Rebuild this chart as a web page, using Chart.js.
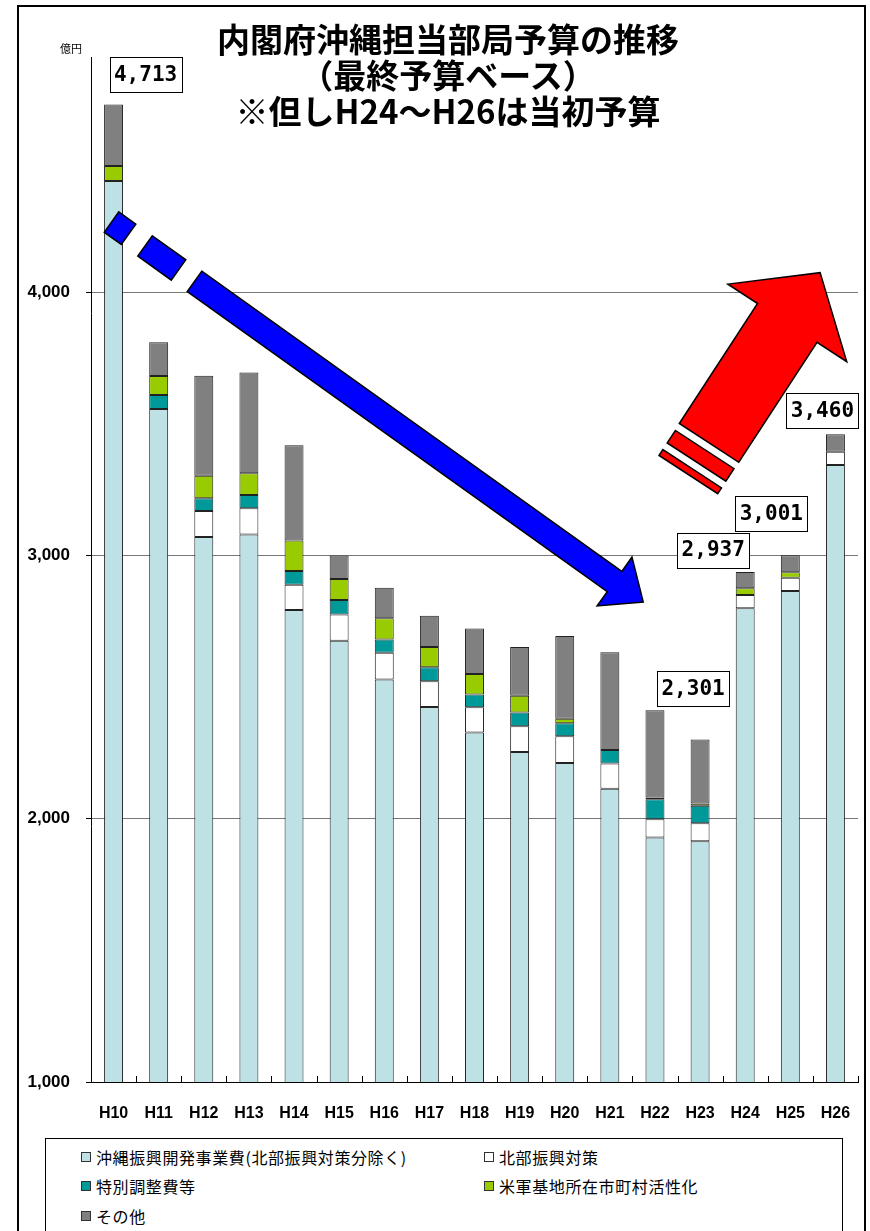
<!DOCTYPE html>
<html lang="ja">
<head>
<meta charset="utf-8">
<script src="https://cdn.jsdelivr.net/npm/chart.js@4.4.1/dist/chart.umd.min.js"></script>
<style>
  html, body { margin: 0; padding: 0; background: #fff; }
  #wrap { position: relative; width: 870px; height: 1231px; overflow: hidden; font-family: "Noto Sans CJK JP", sans-serif; }
  #frame { position: absolute; left: 17px; top: 5px; width: 845px; height: 1300px; border: 2px solid #000; }
  #chart { position: absolute; left: 0; top: 0; }
  #title { position: absolute; left: 0; top: 20px; width: 896px; text-align: center; font-size: 33px; font-weight: bold; line-height: 36px; color: #000; }
  #unit { position: absolute; left: 60px; top: 40px; font-size: 11px; color: #000; }
  #legend { position: absolute; left: 45px; top: 1138px; width: 798px; height: 120px; border: 1px solid #000;
            display: grid; grid-template-columns: 403px 360px; grid-auto-rows: 29.5px; padding: 3px 0 0 35px; box-sizing: border-box; }
  .li { display: flex; align-items: center; font-size: 16px; letter-spacing: 0.6px; color: #000; white-space: nowrap; }
  .sw { width: 8px; height: 8px; border: 1px solid #333; margin-right: 5px; flex: none; }
</style>
</head>
<body>
<div id="wrap">
  <div id="frame"></div>
  <canvas id="chart" width="870" height="1135" style="width:870px;height:1135px"></canvas>
  <div id="title">内閣府沖縄担当部局予算の推移<br>（最終予算ベース）<br>※但しH24～H26は当初予算</div>
  <div id="unit">億円</div>
  <div id="legend"></div>
</div>
<script>
// ---- Données (億円) ----
const categories = ['H10', 'H11', 'H12', 'H13', 'H14', 'H15', 'H16', 'H17', 'H18', 'H19', 'H20', 'H21', 'H22', 'H23', 'H24', 'H25', 'H26'];
const okinawaMain = [4422, 3556, 3070, 3079, 2793, 2676, 2529, 2424, 2327, 2253, 2212, 2114, 1929, 1914, 2799, 2865, 3343];
const hokubu      = [null, null, 99, 100, 96, 100, 101, 98, 96, 98, 101, 96, 69, 69, 51, 50, 51];
const tokubetsu   = [null, 53, 48, 50, 52, 55, 51, 53, 49, 52, 50, 51, 76, 66, null, null, null];
const beigun      = [57, 72, 86, 83, 116, 79, 80, 77, 78, 64, 17, null, 7, 9, 25, 21, null];
const sonota      = [234, 129, 379, 383, 361, 90, 116, 119, 172, 185, 314, 371, 331, 243, 62, 65, 66];
const yTicks = [1000, 2000, 3000, 4000];
const labelledBars = [0, 13, 14, 15, 16];

const series = [
  { label: '沖縄振興開発事業費(北部振興対策分除く)', data: okinawaMain, color: '#BDE1E4' },
  { label: '北部振興対策', data: hokubu, color: '#FFFFFF' },
  { label: '特別調整費等', data: tokubetsu, color: '#009999' },
  { label: '米軍基地所在市町村活性化', data: beigun, color: '#99CC00' },
  { label: 'その他', data: sonota, color: '#808080' }
];

const totals = categories.map((_, i) => series.reduce((s, d) => s + (d.data[i] || 0), 0));

// ---- Décor ----
const boxOffsets = { 0: [32, -30], 13: [-7, -51], 14: [-32, -22], 15: [-19, -42], 16: [-13, -24] };

const arrows = [
  { from: { x: -0.045, y: 4266 }, to: { x: 11.74, y: 2823 }, fill: '#0000FF',
    dashes: [[0, 0.032], [0.063, 0.126]], dashW: 25, shaftStart: 0.156, headBase: 0.946, shaftW: 25, headW: 60 },
  { from: { x: 12.74, y: 3307 }, to: { x: 15.66, y: 4074 }, fill: '#FF0000',
    dashes: [[0, 0.029], [0.062, 0.124]], dashW: 70, shaftStart: 0.157, headBase: 0.751, shaftW: 71, headW: 142 }
];

const fmt = (v) => v.toLocaleString('en-US');

const decorPlugin = {
  id: 'decor',
  afterDraw(chart) {
    const { ctx, scales: { x, y }, chartArea } = chart;

    // petits traits intérieurs entre catégories
    ctx.save();
    ctx.strokeStyle = '#000';
    ctx.lineWidth = 1;
    for (let i = 0; i <= categories.length; i++) {
      const px = Math.round(chartArea.left + (chartArea.right - chartArea.left) * i / categories.length) + 0.5;
      ctx.beginPath();
      ctx.moveTo(px, chartArea.bottom);
      ctx.lineTo(px, chartArea.bottom - 6);
      ctx.stroke();
    }
    ctx.restore();

    // flèches
    arrows.forEach(a => {
      const x0 = x.getPixelForValue(a.from.x), y0 = y.getPixelForValue(a.from.y);
      const x1 = x.getPixelForValue(a.to.x), y1 = y.getPixelForValue(a.to.y);
      const len = Math.hypot(x1 - x0, y1 - y0);
      const ux = (x1 - x0) / len, uy = (y1 - y0) / len;
      const nx = -uy, ny = ux;
      const pt = (t, w) => [x0 + ux * t * len + nx * w, y0 + uy * t * len + ny * w];
      const poly = (pts) => {
        ctx.beginPath();
        pts.forEach((p, k) => k ? ctx.lineTo(p[0], p[1]) : ctx.moveTo(p[0], p[1]));
        ctx.closePath();
        ctx.fill();
        ctx.stroke();
      };
      ctx.save();
      ctx.fillStyle = a.fill;
      ctx.strokeStyle = '#000';
      ctx.lineWidth = 1.5;
      ctx.lineJoin = 'miter';
      a.dashes.forEach(([t0, t1]) => {
        poly([pt(t0, -a.dashW / 2), pt(t1, -a.dashW / 2), pt(t1, a.dashW / 2), pt(t0, a.dashW / 2)]);
      });
      poly([
        pt(a.shaftStart, -a.shaftW / 2), pt(a.headBase, -a.shaftW / 2), pt(a.headBase, -a.headW / 2),
        pt(1, 0),
        pt(a.headBase, a.headW / 2), pt(a.headBase, a.shaftW / 2), pt(a.shaftStart, a.shaftW / 2)
      ]);
      ctx.restore();
    });

    // étiquettes des totaux
    ctx.save();
    ctx.font = 'bold 21px "DejaVu Sans Mono", monospace';
    ctx.textAlign = 'center';
    ctx.textBaseline = 'middle';
    labelledBars.forEach(i => {
      const [dx, dy] = boxOffsets[i];
      const cx = x.getPixelForValue(i) + dx;
      const cy = y.getPixelForValue(totals[i]) + dy;
      const w = 72, h = 35;
      ctx.fillStyle = '#fff';
      ctx.fillRect(Math.round(cx - w / 2), Math.round(cy - h / 2), w, h);
      ctx.strokeStyle = '#000';
      ctx.lineWidth = 1;
      ctx.strokeRect(Math.round(cx - w / 2) + 0.5, Math.round(cy - h / 2) + 0.5, w, h);
      ctx.fillStyle = '#000';
      ctx.fillText(fmt(totals[i]), cx, cy + 1);
    });
    ctx.restore();
  }
};

new Chart(document.getElementById('chart'), {
  type: 'bar',
  data: {
    labels: categories,
    datasets: series.map(s => ({
      label: s.label,
      data: s.data,
      backgroundColor: s.color,
      borderColor: '#222',
      borderWidth: 1,
      borderSkipped: false,
      barPercentage: 0.42,
      categoryPercentage: 1
    }))
  },
  options: {
    responsive: false,
    animation: false,
    layout: { padding: { left: 20, top: 57, right: 12, bottom: 0 } },
    plugins: {
      legend: { display: false },
      title: { display: false },
      tooltip: { enabled: false }
    },
    scales: {
      x: {
        stacked: true,
        grid: { display: false },
        border: { color: '#000', width: 1 },
        ticks: {
          color: '#000',
          padding: 14,
          font: { family: '"Liberation Sans Narrow", "Liberation Sans", sans-serif', weight: 'bold', size: 16 }
        },
        afterFit: (s) => { s.height = 1135 - 1082; }
      },
      y: {
        stacked: true,
        min: 1000,
        max: 4893,
        afterBuildTicks: (s) => { s.ticks = yTicks.map(v => ({ value: v })); },
        grid: { color: '#777', lineWidth: 1, tickColor: '#000', tickLength: 5 },
        border: { color: '#000', width: 1 },
        ticks: {
          color: '#000',
          padding: 16,
          callback: (v) => fmt(v),
          font: { family: '"Liberation Sans", Arial, sans-serif', weight: 'bold', size: 17 }
        },
        afterFit: (s) => { s.width = 91 - 20; }
      }
    }
  },
  plugins: [decorPlugin]
});

// légende HTML
document.getElementById('legend').innerHTML = series.map(s => `
  <div class="li"><span class="sw" style="background:${s.color}"></span>${s.label}</div>
`).join('');
</script>
</body>
</html>
